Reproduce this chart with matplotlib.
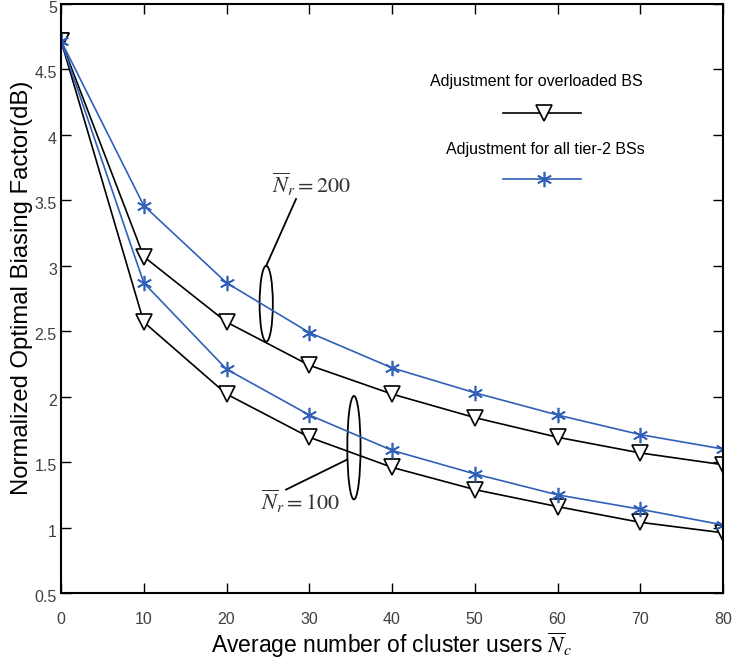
import matplotlib
matplotlib.use("Agg")
import matplotlib.pyplot as plt
from matplotlib.patches import Ellipse
from matplotlib.transforms import ScaledTranslation

plt.rcParams['font.family'] = ['Liberation Sans', 'DejaVu Sans']
plt.rcParams['mathtext.fontset'] = 'stix'

cluster_users = [0, 10, 20, 30, 40, 50, 60, 70, 80]

# Nr = 200
all_tier2_200 = [4.72, 3.46, 2.87, 2.49, 2.22, 2.03, 1.86, 1.71, 1.60]
overloaded_200 = [4.72, 3.07, 2.57, 2.24, 2.02, 1.84, 1.69, 1.57, 1.48]
# Nr = 100
all_tier2_100 = [4.72, 2.87, 2.21, 1.86, 1.59, 1.41, 1.25, 1.14, 1.02]
overloaded_100 = [4.72, 2.57, 2.02, 1.69, 1.46, 1.29, 1.16, 1.04, 0.96]

x_ticks = [0, 10, 20, 30, 40, 50, 60, 70, 80]
y_ticks = [0.5, 1, 1.5, 2, 2.5, 3, 3.5, 4, 4.5, 5]
y_tick_labels = ['0.5', '1', '1.5', '2', '2.5', '3', '3.5', '4', '4.5', '5']

blue = '#3060b8'

fig = plt.figure(figsize=(7.38, 6.66), dpi=100)
ax = fig.add_axes([61 / 738, 1 - 593 / 666, 662 / 738, 589 / 666])

for ys in (overloaded_200, overloaded_100):
    ax.plot(cluster_users, ys, color='black', lw=1.2, marker='v', ms=11,
            mfc='white', mec='black', mew=1.2)
for ys in (all_tier2_200, all_tier2_100):
    ax.plot(cluster_users, ys, color=blue, lw=1.2, marker=(6, 2, 0), ms=11,
            mec=blue, mew=1.2)

ax.set_xlim(0, 80)
ax.set_ylim(0.5, 5)
ax.set_xticks(x_ticks)
ax.set_yticks(y_ticks)
ax.set_yticklabels(y_tick_labels)
ax.tick_params(direction='in', top=True, right=True, length=7, width=1,
               labelsize=11.5, labelcolor='#404040')
ax.tick_params(axis='x', pad=14)
ax.tick_params(axis='y', pad=3)
shift = ScaledTranslation(0, -3 / 100, fig.dpi_scale_trans)
for lbl in ax.get_yticklabels():
    lbl.set_transform(lbl.get_transform() + shift)
for s in ax.spines.values():
    s.set_linewidth(1.5)

ax.set_xlabel(r'Average number of cluster users $\overline{N}_c$', fontsize=16.5)
ax.xaxis.set_label_coords(0.5, -0.063)
ax.set_ylabel('Normalized Optimal Biasing Factor(dB)', fontsize=17.2)
ax.yaxis.set_label_coords(-0.042, 0.518)

# annotations
ax.add_patch(Ellipse((24.8, 2.71), 1.6, 0.58, fill=False, ec='black', lw=1.3))
ax.plot([24.8, 28.4], [3.0, 3.51], color='black', lw=1.3)
ax.text(30.3, 3.62, r'$\overline{N}_r=200$', fontsize=16, color='#333333',
        ha='center', va='center')

ax.add_patch(Ellipse((35.4, 1.61), 1.6, 0.79, fill=False, ec='black', lw=1.3))
ax.plot([34.6, 27.2], [1.52, 1.29], color='black', lw=1.3)
ax.text(29.0, 1.2, r'$\overline{N}_r=100$', fontsize=16, color='#333333',
        ha='center', va='center')

# legend drawn by hand
ax.text(57.4, 4.41, 'Adjustment for overloaded BS', fontsize=11.5, ha='center',
        va='center')
ax.plot([53.4, 62.8], [4.17, 4.17], color='black', lw=1.2)
ax.plot([58.4], [4.17], ls='none', marker='v', ms=11, mfc='white',
        mec='black', mew=1.2)
ax.text(58.5, 3.89, 'Adjustment for all tier-2 BSs', fontsize=11.5, ha='center',
        va='center')
ax.plot([53.4, 62.8], [3.66, 3.66], color=blue, lw=1.2)
ax.plot([58.4], [3.66], ls='none', marker=(6, 2, 0), ms=11, mec=blue, mew=1.2)

fig.savefig('out.png', dpi=100)
